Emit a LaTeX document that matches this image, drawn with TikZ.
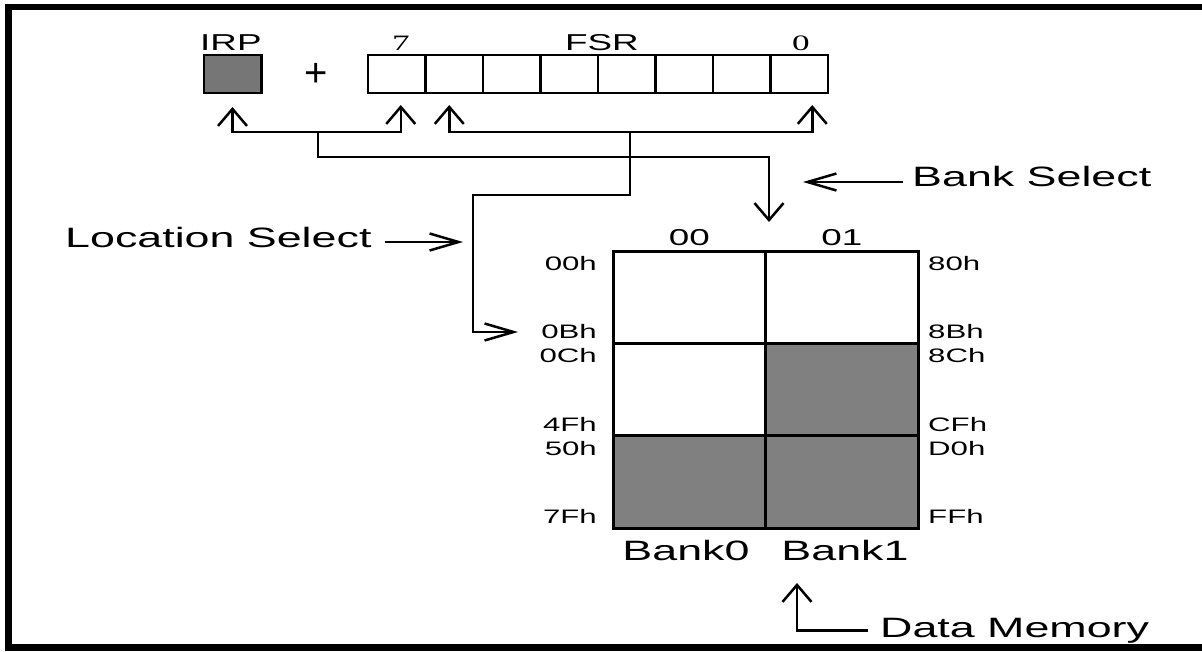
\documentclass[tikz,border=0pt]{standalone}
\usepackage{fontspec}
\setmainfont{Liberation Sans}
\newfontfamily\diagSans[FakeStretch=1.6]{Liberation Sans}
\newfontfamily\diagSerif[FakeStretch=1.6]{Liberation Serif}
\usetikzlibrary{arrows.meta}
\usetikzlibrary{positioning}
\definecolor{memGray}{RGB}{128,128,128}
\definecolor{irpGray}{RGB}{118,118,118}

\begin{document}
\begin{tikzpicture}[
  x=1pt, y=-1pt,
  vTip/.tip={Straight Barb[length=17pt,width=29pt]},
  hTip/.tip={Straight Barb[length=29pt,width=17pt]},
  wire/.style={line width=2.5pt, line join=miter},
  regCell/.style={draw, line width=2.5pt, rectangle, minimum width=57.5pt,
    minimum height=38pt, inner sep=0pt, outer sep=0pt},
  memCell/.style={draw, line width=3pt, rectangle, minimum width=152.5pt,
    minimum height=92.33pt, inner sep=0pt, outer sep=0pt},
  bigText/.style={font=\diagSans\fontsize{28}{30}\selectfont, inner sep=0pt},
  midText/.style={font=\diagSans\fontsize{23}{25}\selectfont, inner sep=0pt},
  hexLabel/.style={font=\diagSans\fontsize{19.5}{21}\selectfont, inner sep=0pt},
  bitLabel/.style={font=\diagSerif\fontsize{22}{24}\selectfont, inner sep=0pt},
]
\useasboundingbox (0,0) rectangle (1202,651);

% frame
\draw[line width=6.5pt] (8.5,7) rectangle (1230,647.5);

% --- registers ---
\node[regCell, fill=irpGray] (irp) at (232.5,74) {};
\node[midText, anchor=base west] (irpLbl) at (200,50) {IRP};
\node[font=\fontsize{40}{40}\selectfont, inner sep=0pt] (plus) at (316,75) {+};

\node[regCell] (fsr7) at (396.75,74) {};
\foreach \i [evaluate=\i as \prev using int(\i+1)] in {6,...,0} {
  \node[regCell, right=0pt of fsr\prev] (fsr\i) {};
}
\node[midText, anchor=base] (fsrLbl) at (602,50) {FSR};
\node[bitLabel, anchor=base] (bitHi) at (401,50) {7};
\node[bitLabel, anchor=base] (bitLo) at (801,50) {0};

% --- data memory ---
\node[memCell] (m00a) at (689.25,297.17) {};
\node[memCell, right=0pt of m00a] (m01a) {};
\node[memCell, below=0pt of m00a] (m00b) {};
\node[memCell, fill=memGray, right=0pt of m00b] (m01b) {};
\node[memCell, fill=memGray, below=0pt of m00b] (m00c) {};
\node[memCell, fill=memGray, right=0pt of m00c] (m01c) {};

\node[midText, anchor=base] (col00) at (m00a.north |- 0,245) {00};
\node[midText, anchor=base] (col01) at (m01a.north |- 0,245) {01};
\node[bigText, anchor=base] (bank0) at (686,560) {Bank0};
\node[bigText, anchor=base] (bank1) at (845,560) {Bank1};

\foreach \name/\lo/\hi/\yb in {a1/00h/80h/270, a2/0Bh/8Bh/338, b1/0Ch/8Ch/362,
    b2/4Fh/CFh/431, c1/50h/D0h/455, c2/7Fh/FFh/523} {
  \node[hexLabel, anchor=base east] (lo\name) at (597,\yb) {\lo};
  \node[hexLabel, anchor=base west] (hi\name) at (928,\yb) {\hi};
}

% --- captions ---
\node[bigText, anchor=base west] (bankSel) at (912,186) {Bank Select};
\node[bigText, anchor=base west] (locSel) at (65,247) {Location Select};
\node[bigText, anchor=base west] (dataMem) at (880,637) {Data Memory};

% --- wiring ---
\coordinate (busL) at (318,132);
\coordinate (busR) at (630,132);
\coordinate (bankTip) at (769,222);
\coordinate (locTip) at (518,332);
\coordinate (memTip) at (797,583);
\coordinate (bankPtr) at (803,182);
\coordinate (locPtr) at (463,242);

\draw[wire, vTip-vTip] ([yshift=-14pt]irp.south) |- (busL)
  -| ([xshift=4pt,yshift=-12pt]fsr7.south);
\draw[wire, vTip-vTip] ([xshift=-5pt,yshift=-12pt]fsr6.south) |- (busR)
  -| ([xshift=13pt,yshift=-12pt]fsr0.south);

\draw[wire, -vTip] (busL) |- (bankTip |- 0,157) -- (bankTip);
\draw[wire, -hTip] (busR) |- (473,195) |- (locTip);

\draw[wire, -hTip] ([xshift=-9pt]bankPtr -| bankSel.west) -- (bankPtr);
\draw[wire, -hTip] ([xshift=13pt]locPtr -| locSel.east) -- (locPtr);
\draw[wire, -vTip] ([xshift=-12pt]dataMem.west) -| (memTip);

\end{tikzpicture}
\end{document}
